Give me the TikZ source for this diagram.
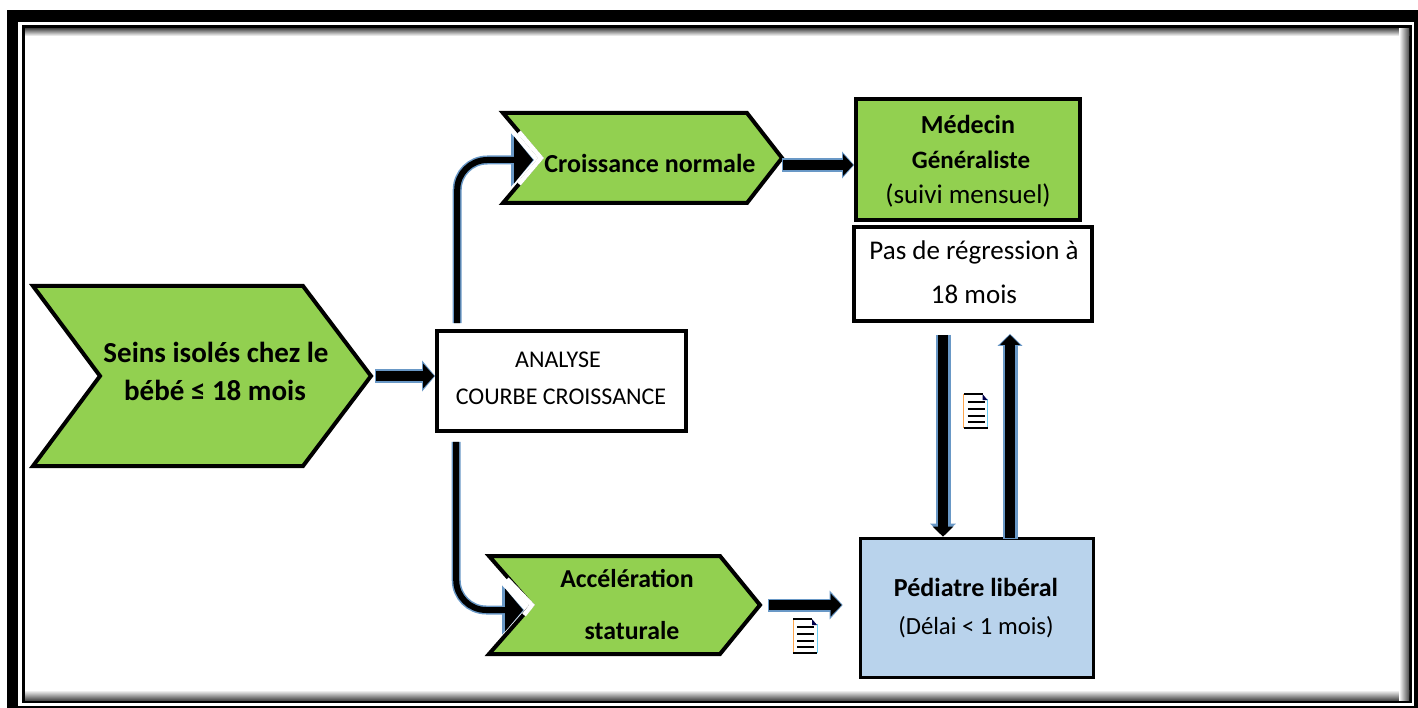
\documentclass[tikz,border=0pt]{standalone}
\usepackage{fontspec}
\setmainfont{Carlito}
\usetikzlibrary{arrows.meta}
\definecolor{leaf}{HTML}{92D050}
\definecolor{sky}{HTML}{B9D3EC}
\definecolor{halo}{HTML}{4F86BC}
\tikzset{
  x=1pt,y=-1pt,
  chev/.style={draw=black,line width=4pt,fill=leaf,miter limit=10},
  box/.style={draw=black,line width=3.6pt,minimum width=#1,inner sep=0pt,align=center},
  box/.default=100pt,
  hold/.style={inner sep=0pt,draw=none,fill=none},
  lbl/.style={inner sep=0pt,text=black,align=center},
  fsize/.style={font=\fontsize{#1}{#1}\selectfont},
  fbold/.style={font=\fontsize{#1}{#1}\selectfont\bfseries},
  lowline/.style={draw=halo!85,line width=#1},
  topline/.style={draw=black,line width=#1},
  doc/.pic={
    \fill[white] (-12,-17) rectangle (12,17);
    \draw[orange!70,line width=1pt] (-12,-17) -- (-12,17);
    \draw[cyan!60,line width=1pt] (12,-12) -- (12,17);
    \draw[black,line width=1.6pt] (-12,-17) -- (7,-17);
    \draw[black,line width=2pt] (-12,17) -- (12,17);
    \fill[black!70!blue] (7,-17) -- (12,-11) -- (7,-11) -- cycle;
    \foreach \yy in {-9,-2,5,11}{\draw[black,line width=1.7pt] (-8,\yy) -- (9,\yy);}
  }
}
% name, x-left, x-shoulder, x-tip, x-notch, y-top, y-mid, y-bottom
\newcommand{\chevron}[8]{%
  \path[chev] (#2,#6) -- (#3,#6) -- (#4,#7) -- (#3,#8) -- (#2,#8) -- (#5,#7) -- cycle;
  \node[hold,minimum width={#4-#2},minimum height={#8-#6}] (#1) at ({(#2+#4)/2},{(#6+#8)/2}) {};
  \coordinate (#1-tip) at (#4,#7);
  \coordinate (#1-notch) at (#5,#7);
}
\begin{document}
\begin{tikzpicture}
\useasboundingbox (0,0) rectangle (1418,708);
% frame
\fill[white] (0,0) rectangle (1418,708);
\fill[black] (7,10) rectangle (1418,708);
\fill[white] (18,22) rectangle (1414,706);
\fill[black] (22,25) rectangle (1412,703);
\fill[white] (25,29) rectangle (1409,700);
\shade[top color=black!65,bottom color=white] (25,29) rectangle (1409,36);
\shade[top color=white,bottom color=black!70] (25,690) rectangle (1409,700);
\shade[left color=white,right color=black!70] (1399,29) rectangle (1409,700);

% shapes
\chevron{seins}{33}{303}{371}{100}{286}{376}{466}
\chevron{crois}{503}{747}{782}{541}{113}{158}{203}
\chevron{accel}{489}{720}{760}{532}{556}{605}{654}

% white edge left around the arrow heads at the notches
\draw[white,line width=4.5pt,line join=miter] ([shift={(-22pt,26pt)}]crois-notch) -- (crois-notch) -- ([shift={(-22pt,-26pt)}]crois-notch);
\draw[white,line width=4.5pt,line join=miter] ([shift={(-25pt,26pt)}]accel-notch) -- (accel-notch) -- ([shift={(-8pt,-10pt)}]accel-notch);

\node[box,fill=white,minimum width=249pt,minimum height=100pt] (analyse) at (561.5,381) {};
\node[box,fill=leaf,minimum width=224pt,minimum height=121pt] (medecin) at (968,159.5) {};
\node[box,fill=white,minimum width=238pt,minimum height=94pt] (pas) at (973,274) {};
\node[box,fill=sky,minimum width=233pt,minimum height=139pt] (pediatre) at (977,608) {};

% text
\node[lbl,fbold=29] (t1) at (216,352) {Seins isolés chez le};
\node[lbl,fbold=29] (t2) at (215,390) {bébé ≤ 18 mois};
\node[lbl,fbold=26] (t3) at (650,163) {Croissance normale};
\node[lbl,fbold=25.8] (t4) at (627,579) {Accélération};
\node[lbl,fbold=25.8] (t5) at (632,631) {staturale};
\node[lbl,fsize=24] (t6) at (558,360) {ANALYSE};
\node[lbl,fsize=24] (t7) at (561,397) {COURBE CROISSANCE};
\node[lbl,fbold=26] (t8) at (968,124) {Médecin};
\node[lbl,fbold=25] (t9) at (971,160) {Généraliste};
\node[lbl,fsize=27] (t10) at (968,195) {(suivi mensuel)};
\node[lbl,fsize=27] (t11) at (974,252) {Pas de régression à};
\node[lbl,fsize=27] (t12) at (974,294) {18 mois};
\node[lbl,fbold=26] (t13) at (976,587) {Pédiatre libéral};
\node[lbl,fsize=24.7] (t14) at (976,627) {(Délai < 1 mois)};

% connectors
\coordinate (c1) at ([xshift=22pt,yshift=6pt]analyse.north west);
\coordinate (c2) at ([xshift=21pt,yshift=-9pt]analyse.south west);
\begin{scope}[rounded corners=30pt]
\draw[lowline=9pt,-{Triangle[length=23pt,width=52pt]}] (c1) |- ([xshift=-7pt,yshift=-2pt]crois-notch);
\draw[topline=6pt,-{Triangle[length=19pt,width=46pt]}] (c1) |- ([xshift=-8pt,yshift=-2pt]crois-notch);
\draw[lowline=9pt,-{Triangle[length=22pt,width=48pt]}] (c2) |- ([xshift=-8pt,yshift=-5pt]accel-notch);
\draw[topline=6pt,-{Triangle[length=18pt,width=42pt]}] (c2) |- ([xshift=-9pt,yshift=-5pt]accel-notch);
\end{scope}
% straight block arrows
\draw[lowline=14pt,-{Triangle[length=13pt,width=30pt]}] ([xshift=4pt]seins-tip) -- (analyse.west |- seins-tip);
\draw[topline=10pt,-{Triangle[length=11pt,width=24pt]}] ([xshift=5pt]seins-tip) -- ([xshift=-1pt]analyse.west |- seins-tip);

\draw[lowline=14pt,-{Triangle[length=12pt,width=26pt]}] ([yshift=-7pt]crois-tip) -- ([yshift=-5.5pt]medecin.west);
\draw[topline=10pt,-{Triangle[length=10pt,width=21pt]}] ([xshift=1pt,yshift=-7pt]crois-tip) -- ([xshift=-1pt,yshift=-5.5pt]medecin.west);

\draw[lowline=13pt,-{Triangle[length=13pt,width=28pt]}] ([xshift=8pt]accel-tip) -- ([xshift=-16pt,yshift=3pt]pediatre.west);
\draw[topline=10pt,-{Triangle[length=11pt,width=22pt]}] ([xshift=9pt]accel-tip) -- ([xshift=-17pt,yshift=3pt]pediatre.west);

\draw[lowline=15pt,-{Triangle[length=12pt,width=25pt]}] ([xshift=-30pt,yshift=-12pt]pas.south) -- ([xshift=-30pt,yshift=1pt]pas.south |- pediatre.north);
\draw[topline=10pt,-{Triangle[length=10pt,width=20pt]}] ([xshift=-30pt,yshift=-12pt]pas.south) -- ([xshift=-30pt]pas.south |- pediatre.north);

\draw[lowline=15pt,-{Triangle[length=12pt,width=24pt]}] ([xshift=37pt,yshift=-2pt]pas.south |- pediatre.north) -- ([xshift=37pt,yshift=-11pt]pas.south);
\draw[topline=10pt,-{Triangle[length=10pt,width=19pt]}] ([xshift=37pt,yshift=-1pt]pas.south |- pediatre.north) -- ([xshift=37pt,yshift=-12pt]pas.south);

% document icons
\pic at (975.5,411) {doc};
\pic at (805,636) {doc};
\end{tikzpicture}
\end{document}
